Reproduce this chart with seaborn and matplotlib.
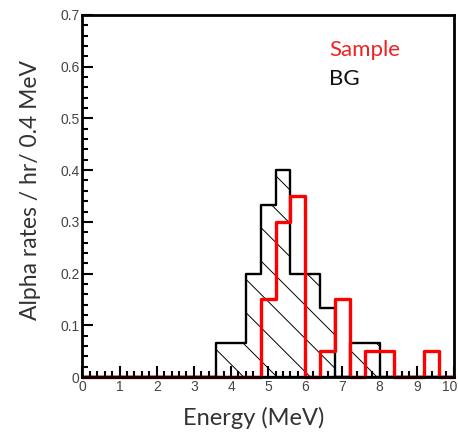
import numpy as np
import pandas as pd
import matplotlib
matplotlib.use("Agg")
import matplotlib.pyplot as plt
import matplotlib.transforms as mtransforms
import seaborn as sns
from matplotlib.ticker import MultipleLocator

# ---- data (rates per 0.4 MeV bin, bins 0..10 MeV) ----
bin_edges = [round(0.4 * i, 2) for i in range(26)]
bin_centers = [round(0.4 * i + 0.2, 2) for i in range(25)]
sample_rates = [0, 0, 0, 0, 0, 0, 0, 0, 0, 0, 0, 0,
                0.15, 0.30, 0.35, 0, 0.05, 0.15, 0, 0.05, 0.05, 0, 0, 0.05, 0]
bg_rates = [0, 0, 0, 0, 0, 0, 0, 0, 0, 0.0667, 0.0667, 0.2,
            0.333, 0.4, 0.2, 0.2, 0.133, 0, 0.0667, 0.0667, 0, 0, 0, 0, 0]
legend_labels = ["Sample", "BG"]
x_label = "Energy (MeV)"
y_label = "Alpha rates / hr/ 0.4 MeV"

df = pd.DataFrame({"E": bin_centers, "sample": sample_rates, "bg": bg_rates})

sns.set_theme(style="white")
plt.rcParams["font.family"] = ["Liberation Sans", "DejaVu Sans"]
plt.rcParams["hatch.linewidth"] = 0.7

fig = plt.figure(figsize=(4.58, 4.33), dpi=100)
ax = fig.add_axes([0.180, 0.1293, 0.811, 0.8361])

# BG: hatched filled step histogram
sns.histplot(data=df, x="E", weights="bg", bins=bin_edges, element="step",
             fill=True, color="black", ax=ax, linewidth=1.7)
for coll in ax.collections:
    coll.set_facecolor("none")
    coll.set_edgecolor("black")
    coll.set_hatch("\\")
    coll.set_linewidth(1.7)

# Sample: red step outline
sns.histplot(data=df, x="E", weights="sample", bins=bin_edges, element="step",
             fill=False, color="#ff0000", ax=ax, linewidth=2.4)
for ln in ax.lines:
    ln.set_clip_on(False)

ax.set_xlim(0, 10)
ax.set_ylim(0, 0.7)
ax.xaxis.set_minor_locator(MultipleLocator(0.2))
ax.yaxis.set_minor_locator(MultipleLocator(0.02))
ax.tick_params(which="both", direction="in", bottom=True, left=True,
               top=False, right=False, colors="black", labelcolor="#444444",
               labelsize=10, width=1.5)
ax.tick_params(which="major", length=8, pad=2)
ax.tick_params(which="minor", length=4)
ax.set_xticks(range(0, 11))
ax.set_xticklabels([str(v) for v in range(0, 11)])
yt = [round(0.1 * i, 1) for i in range(8)]
ax.set_yticks(yt)
ax.set_yticklabels(["0" if v == 0 else f"{v:.1f}" for v in yt])
last = ax.get_xticklabels()[-1]
last.set_transform(last.get_transform() + mtransforms.ScaledTranslation(-4 / 100, 0, fig.dpi_scale_trans))

for s in ax.spines.values():
    s.set_visible(True)
    s.set_color("black")
    s.set_linewidth(2)

lab_font = ["Lato", "DejaVu Sans"]
ax.set_xlabel(x_label, fontsize=17, color="#333333", family=lab_font)
ax.set_ylabel(y_label, fontsize=16.5, color="#333333", family=lab_font)
ax.xaxis.set_label_coords(0.46, -0.113, transform=ax.transAxes)
ax.yaxis.set_label_coords(-0.141, 0.517, transform=ax.transAxes)
ax.xaxis.label.set_va("center")
ax.yaxis.label.set_va("center")

ax.text(0.665, 0.903, legend_labels[0], transform=ax.transAxes, color="#ee2222",
        fontsize=16, family=lab_font, va="center", ha="left")
ax.text(0.665, 0.823, legend_labels[1], transform=ax.transAxes, color="#111111",
        fontsize=16, family=lab_font, va="center", ha="left")

fig.savefig("out.png", dpi=100, facecolor="white")
